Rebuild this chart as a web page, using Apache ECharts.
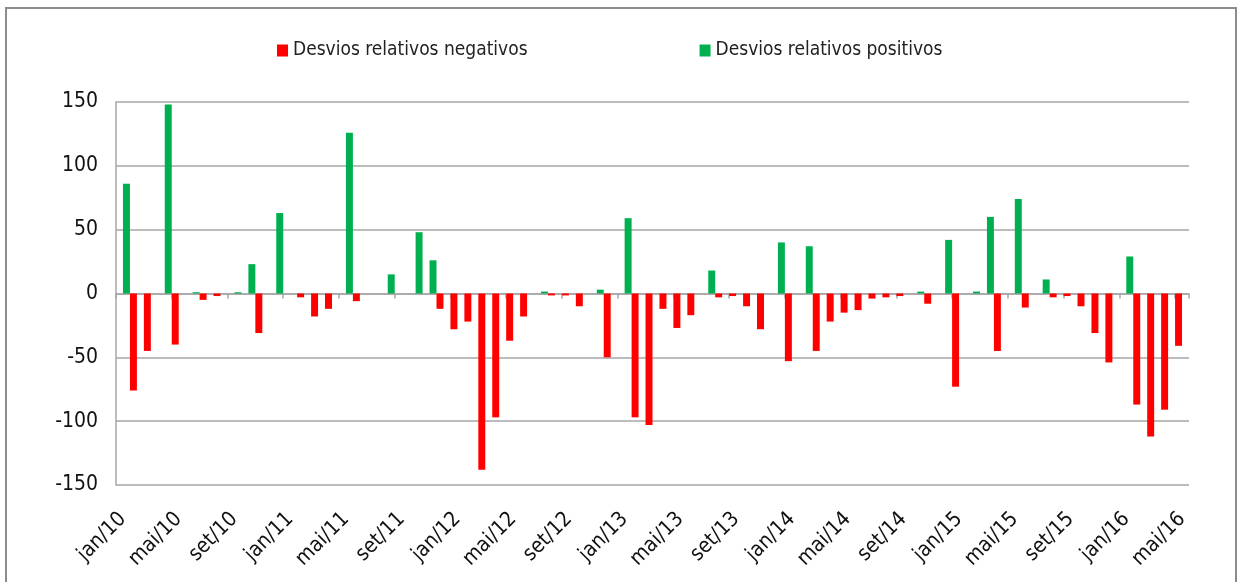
<!DOCTYPE html>
<html>
<head>
<meta charset="utf-8">
<title>Desvios relativos</title>
<script src="https://cdn.jsdelivr.net/npm/echarts@6/dist/echarts.min.js"></script>
<style>
  html, body { margin: 0; padding: 0; background: #fff; }
  #chart { width: 1238px; height: 582px; }
</style>
</head>
<body>
<div id="chart"></div>
<script>
// meses de jan/10 a mai/16
var meses = ['jan', 'fev', 'mar', 'abr', 'mai', 'jun', 'jul', 'ago', 'set', 'out', 'nov', 'dez'];
var anos = ['10', '11', '12', '13', '14', '15', '16'];
var categorias = [];
anos.forEach(function(a) {
    meses.forEach(function(m) {
        if (categorias.length < 77) categorias.push(m + '/' + a);
    });
});

// desvios negativos (vermelho), um ano por linha
var negativos = [
    null, -76, -45, null, -40, null, -5, -2, null, null, -31, null,
    null, -3, -18, -12, null, -6, null, null, null, null, null, -12,
    -28, -22, -138, -97, -37, -18, null, -1.5, -1.5, -10, null, -50,
    null, -97, -103, -12, -27, -17, null, -3, -2, -10, -28, null,
    -53, null, -45, -22, -15, -13, -4, -3, -2, null, -8, null,
    -73, null, null, -45, null, -11, null, -3, -2, -10, -31, -54,
    null, -87, -112, -91, -41
];
// desvios positivos (verde)
var positivos = [
    86, null, null, 148, null, 1, null, null, 1, 23, null, 63,
    null, null, null, null, 126, null, null, 15, null, 48, 26, null,
    null, null, null, null, null, null, 1.5, null, null, null, 3, null,
    59, null, null, null, null, null, 18, null, null, null, null, 40,
    null, 37, null, null, null, null, null, null, null, 1.5, null, 42,
    null, 1.5, 60, null, 74, null, 11, null, null, null, null, null,
    29, null, null, null, null
];
var nomes = ['Desvios relativos negativos', 'Desvios relativos positivos'];

var fonte = "'Liberation Sans Narrow', 'DejaVu Sans Condensed', 'Open Sans', sans-serif";
var cinza = '#a6a6a6';

var chart = echarts.init(document.getElementById('chart'));
var option = {
    animation: false,
    color: ['#ff0000', '#00b050'],
    textStyle: { fontFamily: fonte },
    graphic: [{
        type: 'rect',
        shape: { x: 6, y: 8, width: 1230, height: 620 },
        style: { fill: null, stroke: '#8c8c8c', lineWidth: 2 }
    }],
    legend: {
        top: 36,
        left: 272,
        itemGap: 172,
        itemWidth: 11,
        itemHeight: 12,
        icon: 'rect',
        textStyle: { fontFamily: fonte, fontSize: 19, color: '#222' },
        data: nomes
    },
    grid: { left: 116, right: 49, top: 102, bottom: 97 },
    xAxis: [{
        // eixo das legendas (embaixo)
        type: 'category',
        data: categorias,
        position: 'bottom',
        axisLine: { show: false, onZero: false },
        axisTick: { show: false },
        axisLabel: {
            interval: 3,
            rotate: 45,
            margin: 31,
            fontFamily: fonte,
            fontSize: 21,
            color: '#111'
        },
        splitLine: { show: false }
    }, {
        // linha do zero com as marcas
        type: 'category',
        data: categorias,
        position: 'top',
        axisLine: { show: true, onZero: true, lineStyle: { color: cinza, width: 1.5 } },
        axisTick: { show: true, inside: true, interval: 3, length: 5, lineStyle: { color: cinza, width: 1.5 } },
        axisLabel: { show: false },
        splitLine: { show: false }
    }],
    yAxis: {
        type: 'value',
        min: -150,
        max: 150,
        interval: 50,
        axisLine: { show: true, lineStyle: { color: cinza, width: 1.5 } },
        axisTick: { show: false },
        axisLabel: { fontFamily: fonte, fontSize: 21, color: '#111', margin: 18 },
        splitLine: { show: true, lineStyle: { color: cinza, width: 1.5 } }
    },
    series: [{
        name: nomes[0],
        type: 'bar',
        data: negativos,
        barGap: '0%',
        barCategoryGap: '0%'
    }, {
        name: nomes[1],
        type: 'bar',
        data: positivos,
        barGap: '0%',
        barCategoryGap: '0%'
    }]
};
chart.setOption(option);
</script>
</body>
</html>
